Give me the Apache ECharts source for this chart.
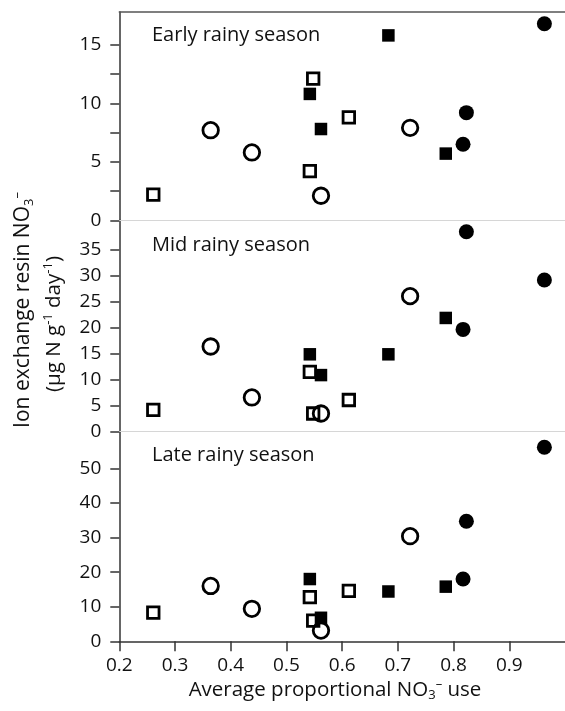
<!DOCTYPE html>
<html>
<head>
<meta charset="utf-8">
<title>Ion exchange resin NO3 vs proportional NO3 use</title>
<script src="https://cdn.jsdelivr.net/npm/echarts@6/dist/echarts.min.js"></script>
<style>
html, body { margin: 0; padding: 0; background: #fff; }
#chart { width: 565px; height: 711px; }
</style>
</head>
<body>
<div id="chart"></div>
<script>
// [x, y] pairs, one array per symbol and panel
var earlyOpenSquare = [[0.261, 2.2], [0.548, 12.1], [0.542, 4.2], [0.612, 8.8]];
var earlyFilledSquare = [[0.542, 10.8], [0.562, 7.8], [0.683, 15.8], [0.786, 5.7]];
var earlyOpenCircle = [[0.364, 7.7], [0.438, 5.8], [0.562, 2.1], [0.722, 7.9]];
var earlyFilledCircle = [[0.817, 6.5], [0.823, 9.2], [0.963, 16.8]];

var midOpenSquare = [[0.261, 4.2], [0.542, 11.5], [0.548, 3.5], [0.612, 6.1]];
var midFilledSquare = [[0.542, 14.9], [0.562, 10.9], [0.683, 14.9], [0.786, 21.9]];
var midOpenCircle = [[0.364, 16.4], [0.438, 6.6], [0.562, 3.5], [0.722, 26.1]];
var midFilledCircle = [[0.817, 19.7], [0.823, 38.5], [0.963, 29.2]];

var lateOpenSquare = [[0.261, 8.3], [0.542, 12.8], [0.548, 6.0], [0.612, 14.6]];
var lateFilledSquare = [[0.542, 18.0], [0.562, 6.8], [0.683, 14.4], [0.786, 15.8]];
var lateOpenCircle = [[0.364, 16.0], [0.438, 9.4], [0.562, 3.1], [0.722, 30.4]];
var lateFilledCircle = [[0.817, 18.0], [0.823, 34.7], [0.963, 56.1]];

// ticks / labels
var xTicks = [0.2, 0.3, 0.4, 0.5, 0.6, 0.7, 0.8, 0.9];
var earlyTicks = [0, 2.5, 5, 7.5, 10, 12.5, 15];
var earlyLabels = [0, 5, 10, 15];
var midTicks = [0, 5, 10, 15, 20, 25, 30, 35];
var lateTicks = [0, 10, 20, 30, 40, 50];
var panelNames = ['Early rainy season', 'Mid rainy season', 'Late rainy season'];
var yMax = [17.8, 40.7, 60.6];

var FONT = '"Open Sans"';
var INK = '#111';

var chart = echarts.init(document.getElementById('chart'), null, { renderer: 'canvas' });

var grids = [
    { left: 119.3, width: 453.6, top: 12, height: 208.3 },
    { left: 119.3, width: 453.6, top: 220.3, height: 211.4 },
    { left: 119.3, width: 453.6, top: 431.7, height: 209.6 }
];

function xAxisFor(i) {
    var last = i === 2;
    return {
        type: 'value', gridIndex: i, min: 0.2, max: 1.0,
        axisLine: { onZero: false, lineStyle: { color: last ? '#333' : '#d6d6d6', width: last ? 1.5 : 1.2 } },
        axisTick: { show: last, customValues: xTicks, length: 10, lineStyle: { color: '#333', width: 1.5 } },
        axisLabel: {
            show: last, customValues: xTicks, margin: 15,
            fontFamily: FONT, fontSize: 19, color: INK,
            formatter: function(v) { return v.toFixed(1); }
        },
        splitLine: { show: false }
    };
}

function yAxisFor(i, ticks, labels) {
    return {
        type: 'value', gridIndex: i, min: 0, max: yMax[i],
        axisLine: { show: true, onZero: false, lineStyle: { color: '#333', width: 1.5 } },
        axisTick: { show: true, customValues: ticks, length: 9, lineStyle: { color: '#333', width: 1.5 } },
        axisLabel: { customValues: labels, margin: 18, fontFamily: FONT, fontSize: 19, color: INK },
        splitLine: { show: false }
    };
}

var xAxes = [xAxisFor(0), xAxisFor(1), xAxisFor(2)];
// top frame line
xAxes.push({
    type: 'value', gridIndex: 0, position: 'top', min: 0.2, max: 1.0,
    axisLine: { onZero: false, lineStyle: { color: '#555', width: 1.5 } },
    axisTick: { show: false }, axisLabel: { show: false }, splitLine: { show: false }
});

var yAxes = [
    yAxisFor(0, earlyTicks, earlyLabels),
    yAxisFor(1, midTicks, midTicks),
    yAxisFor(2, lateTicks, lateTicks)
];

var styles = {
    openSquare: { symbol: 'rect', symbolSize: 11.5, itemStyle: { color: 'rgba(0,0,0,0)', borderColor: '#000', borderWidth: 2.8, opacity: 1 } },
    openCircle: { symbol: 'circle', symbolSize: 15.5, itemStyle: { color: 'rgba(0,0,0,0)', borderColor: '#000', borderWidth: 2.8, opacity: 1 } },
    filledSquare: { symbol: 'rect', symbolSize: 12.5, itemStyle: { color: '#000', opacity: 1 } },
    filledCircle: { symbol: 'circle', symbolSize: 15, itemStyle: { color: '#000', opacity: 1 } }
};

function scatter(i, kind, data) {
    var s = styles[kind];
    return {
        type: 'scatter', xAxisIndex: i, yAxisIndex: i, data: data,
        symbol: s.symbol, symbolSize: s.symbolSize, itemStyle: s.itemStyle,
        silent: true, animation: false
    };
}

var panels = [
    [earlyOpenSquare, earlyOpenCircle, earlyFilledSquare, earlyFilledCircle],
    [midOpenSquare, midOpenCircle, midFilledSquare, midFilledCircle],
    [lateOpenSquare, lateOpenCircle, lateFilledSquare, lateFilledCircle]
];
var kinds = ['openSquare', 'openCircle', 'filledSquare', 'filledCircle'];
var series = [];
panels.forEach(function(p, i) {
    p.forEach(function(d, k) { series.push(scatter(i, kinds[k], d)); });
});

var rich = {
    sub: { fontFamily: FONT, fontSize: 13, lineHeight: 13, verticalAlign: 'bottom', fill: INK, color: INK },
    sup: { fontFamily: FONT, fontSize: 13, lineHeight: 13, verticalAlign: 'top', fill: INK, color: INK }
};

function label(x, y, text, size, align, rot) {
    return {
        type: 'text', x: x, y: y, rotation: rot || 0, silent: true,
        style: {
            text: text, x: 0, y: 0, fill: INK,
            fontFamily: FONT, fontSize: size, lineHeight: size + 4,
            align: align, textAlign: align,
            verticalAlign: 'middle', textVerticalAlign: 'middle',
            rich: rich
        }
    };
}

var graphics = [
    label(152, 35, panelNames[0], 20, 'left'),
    label(152, 245, panelNames[1], 20, 'left'),
    label(152, 455, panelNames[2], 20, 'left'),
    label(335, 690, 'Average proportional NO{sub|3}{sup|–} use', 20.5, 'center'),
    label(23, 310, 'Ion exchange resin NO{sub|3}{sup|–}', 21, 'center', Math.PI / 2),
    label(54, 324, '(µg N g{sup|-1} day{sup|-1})', 20.5, 'center', Math.PI / 2)
];

chart.setOption({
    backgroundColor: '#fff',
    animation: false,
    grid: grids,
    xAxis: xAxes,
    yAxis: yAxes,
    series: series,
    graphic: graphics
});
</script>
</body>
</html>
